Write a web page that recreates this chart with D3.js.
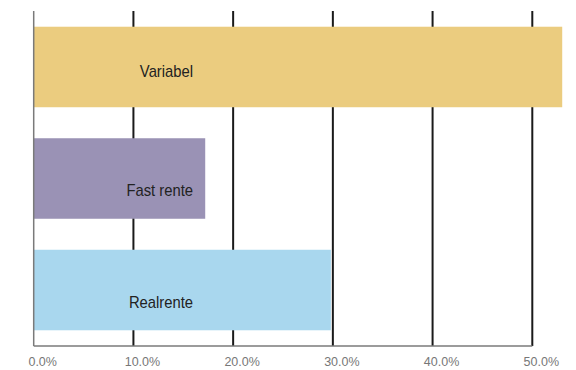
<!DOCTYPE html>
<html>
<head>
<meta charset="utf-8">
<script src="https://cdn.jsdelivr.net/npm/d3@7"></script>
<style>
  html, body { margin: 0; padding: 0; background: #fff; }
  svg { display: block; }
</style>
</head>
<body>
<svg id="chart" width="576" height="370"></svg>
<script>
// Share of mortgages by interest type (percent)
const categories = ["Variabel", "Fast rente", "Realrente"];
const values = [53.0, 17.2, 29.8];
const tickValues = [0, 10, 20, 30, 40, 50];
const tickLabels = ["0.0%", "10.0%", "20.0%", "30.0%", "40.0%", "50.0%"];
const barColors = ["#EBCC7F", "#9A92B5", "#A9D7EE"];

const svg = d3.select("#chart");
const plotTop = 11, plotBottom = 346, plotLeft = 33.7, plotRight = 532.3;

const x = d3.scaleLinear().domain([0, 50]).range([plotLeft, plotRight]);
const y = d3.scaleBand()
  .domain(categories)
  .range([plotTop, plotBottom])
  .paddingInner(0.278)
  .paddingOuter(0.141);

// vertical grid lines (behind the bars)
svg.append("g")
  .selectAll("line")
  .data(tickValues.filter(d => d > 0))
  .join("line")
  .attr("x1", d => x(d)).attr("x2", d => x(d))
  .attr("y1", plotTop).attr("y2", plotBottom)
  .attr("stroke", "#1a1a1a")
  .attr("stroke-width", 2);

// bars
svg.append("g")
  .selectAll("rect")
  .data(categories)
  .join("rect")
  .attr("x", x(0))
  .attr("y", d => y(d))
  .attr("width", (d, i) => x(values[i]) - x(0))
  .attr("height", y.bandwidth())
  .attr("fill", (d, i) => barColors[i]);

// left and bottom axis lines
svg.append("line")
  .attr("x1", x(0)).attr("x2", x(0))
  .attr("y1", plotTop).attr("y2", plotBottom)
  .attr("stroke", "#7a7a7a").attr("stroke-width", 1.5);
svg.append("line")
  .attr("x1", x(0)).attr("x2", x(50))
  .attr("y1", plotBottom).attr("y2", plotBottom)
  .attr("stroke", "#7a7a7a").attr("stroke-width", 1.5);

// bar labels, right-aligned in a common column, horizontally condensed
const labelX = 193;
const labelDy = [10, 17, 18];
svg.append("g")
  .selectAll("text")
  .data(categories)
  .join("text")
  .attr("transform", (d, i) =>
    `translate(${labelX}, ${y(d) + y.bandwidth() / 2 + labelDy[i]}) scale(0.87, 1)`)
  .attr("text-anchor", "end")
  .attr("font-family", "'Liberation Sans', Arial, sans-serif")
  .attr("font-size", "17px")
  .attr("fill", "#222")
  .text(d => d);

// x-axis tick labels
const xAxis = d3.axisBottom(x)
  .tickValues(tickValues)
  .tickSize(0)
  .tickFormat((d, i) => tickLabels[i]);
const gx = svg.append("g")
  .attr("transform", `translate(8.5, ${plotBottom + 8})`)
  .call(xAxis);
gx.select(".domain").remove();
gx.selectAll("text")
  .attr("font-family", "'Liberation Sans', Arial, sans-serif")
  .attr("font-size", "12.5px")
  .attr("fill", "#777");
</script>
</body>
</html>
